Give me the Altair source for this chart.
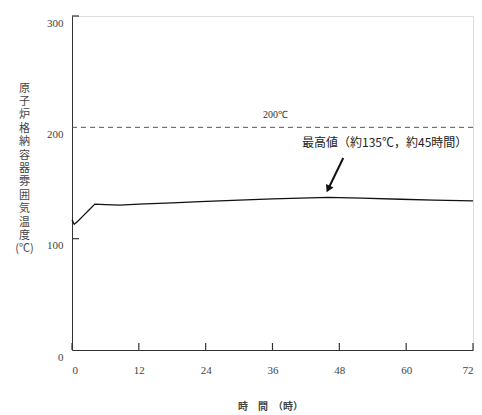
import altair as alt
import pandas as pd

# Data
hours = [0, 0.4, 1, 2, 3, 4.1, 6, 8.6, 12, 18, 23, 30, 36, 41, 46, 52, 59, 65, 72]
temps = [117, 113, 115.5, 120.5, 125.5, 131, 130.6, 130.2, 131, 132.2, 133.3, 134.6,
         135.7, 136.5, 137, 136.5, 135.4, 134.7, 134]
limit_value = [200]
limit_label = ["200℃"]
x_ticks = [0, 12, 24, 36, 48, 60, 72]
y_ticks = [0, 100, 200, 300]
peak_label = ["最高値（約135℃，約45時間）"]
y_title = ["原", "子", "炉", "格", "納", "容", "器", "雰", "囲", "気", "温", "度", "(℃)"]
x_title = "時　間　（時）"

W, H = 401, 334
GREY = "#444444"
SERIF = "Liberation Serif"
CJK = "Noto Sans CJK JP"

df = pd.DataFrame({"t": hours, "temp": temps})

xs = alt.Scale(domain=[0, 72], nice=False, zero=False)
ys = alt.Scale(domain=[0, 300], nice=False)

x_axis = alt.Axis(values=x_ticks, ticks=False, grid=False, domainColor="#333333",
                  labelFont=SERIF, labelFontSize=11, labelColor=GREY, labelPadding=14,
                  title=x_title, titleFont=CJK, titleFontSize=10, titleFontWeight="bold",
                  titleColor=GREY, titleX=198, titleY=51, titleBaseline="top",
                  titleAnchor="start", titleAlign="center")
y_axis = alt.Axis(values=y_ticks, ticks=False, grid=False, domainColor="#333333",
                  labelFont=SERIF, labelFontSize=11, labelColor=GREY, labelPadding=9,
                  labelOffset=7,
                  title=y_title, titleFont=CJK, titleFontSize=11, titleFontWeight="normal",
                  titleColor=GREY, titleAngle=0, titleX=-48, titleY=66,
                  titleBaseline="top", titleAlign="center", titleLineHeight=13.4)

line = alt.Chart(df).mark_line(color="#111111", strokeWidth=1.3).encode(
    x=alt.X("t:Q", scale=xs, axis=x_axis),
    y=alt.Y("temp:Q", scale=ys, axis=y_axis),
)

lim_df = pd.DataFrame({"v": limit_value, "t0": [0], "t1": [72]})
limit = alt.Chart(lim_df).mark_rule(color="#555555", strokeDash=[5, 4], strokeWidth=1).encode(
    x=alt.X("t0:Q", scale=xs), x2="t1:Q", y=alt.Y("v:Q", scale=ys)
)

lim_txt = alt.Chart(pd.DataFrame({"t": [34.3], "v": [211], "s": limit_label})).mark_text(
    font=SERIF, fontSize=10, color="#333333", align="left", baseline="middle"
).encode(x=alt.X("t:Q", scale=xs), y=alt.Y("v:Q", scale=ys), text="s:N")

# inward ticks
xt = alt.Chart(pd.DataFrame({"t": x_ticks})).mark_rule(color="#333333", strokeWidth=1.2).encode(
    x=alt.X("t:Q", scale=xs), y=alt.value(H), y2=alt.value(H - 7)
)
yt = alt.Chart(pd.DataFrame({"v": [100, 300]})).mark_rule(color="#333333", strokeWidth=1.2).encode(
    y=alt.Y("v:Q", scale=ys), x=alt.value(0), x2=alt.value(7)
)

peak_txt = alt.Chart(pd.DataFrame({"t": [41.3], "v": [186], "s": peak_label})).mark_text(
    font=CJK, fontSize=12, color="#222222", align="left", baseline="middle"
).encode(x=alt.X("t:Q", scale=xs), y=alt.Y("v:Q", scale=ys), text="s:N")

arrow_df = pd.DataFrame({"t": [48.7], "v": [172.5], "t2": [46.0], "v2": [144.6]})
arrow_line = alt.Chart(arrow_df).mark_rule(color="#111111", strokeWidth=2).encode(
    x=alt.X("t:Q", scale=xs), y=alt.Y("v:Q", scale=ys), x2="t2:Q", y2="v2:Q"
)
arrow_head = alt.Chart(arrow_df).mark_point(shape="triangle-up", filled=True, color="#111111",
                                            size=70, angle=206, opacity=1).encode(
    x=alt.X("t2:Q", scale=xs), y=alt.Y("v2:Q", scale=ys)
)

chart = alt.layer(limit, lim_txt, xt, yt, line, arrow_line, arrow_head, peak_txt).properties(
    width=W, height=H,
    autosize=alt.AutoSizeParams(type="none"),
    padding={"left": 64, "top": 8, "right": 1, "bottom": 64},
).configure_view(stroke=None).configure(background="white")

chart.save("out.html", embed_options={"renderer": "svg", "actions": False})
